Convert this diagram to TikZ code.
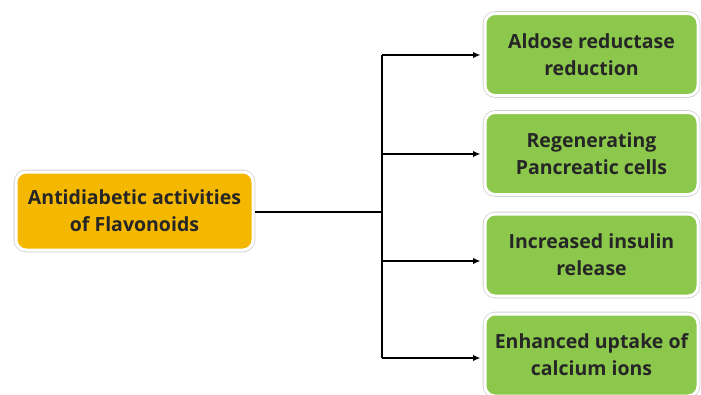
\documentclass[tikz,border=0pt]{standalone}
\usepackage{fontspec}
\setsansfont{Open Sans}
\usepackage{tikz}
\usetikzlibrary{arrows.meta,shadows}

\definecolor{flavgold}{HTML}{F5B800}
\definecolor{actgreen}{HTML}{8CC84B}
\definecolor{boxtext}{HTML}{262626}

\begin{document}
\begin{tikzpicture}[x=1pt,y=1pt,yscale=-1,xscale=1,
  card/.style={rectangle, rounded corners=10pt, draw=white, line width=3pt,
    preaction={draw=black!18, line width=4.6pt},
    drop shadow={shadow xshift=0.6pt, shadow yshift=-1.6pt, opacity=0.25},
    align=center, text=boxtext, inner sep=0pt,
    font=\sffamily\bfseries\fontsize{19.5}{27}\selectfont},
  rootbox/.style={card, fill=flavgold, minimum width=237pt, minimum height=78pt},
  leafbox/.style={card, fill=actgreen, minimum width=213pt, minimum height=82pt},
  link/.style={line width=1.6pt, black},
  tip/.style={link, -{Latex[length=7.5pt,width=6.5pt]}, shorten >=3pt}]
%set diagram left start at 0, and has height of 394
\path[use as bounding box, clip] (0,0) rectangle (701,394);

% Root Node
\node [rootbox] (root) at (134.5,211) {Antidiabetic activities\\of Flavonoids};

% Leaf Nodes
\node [leafbox] (aldose) at (591.5,54.5) {Aldose reductase\\reduction};
\node [leafbox] (pancreas) at (591.5,153.5) {Regenerating\\Pancreatic cells};
\node [leafbox] (insulin) at (591.5,255) {Increased insulin\\release};
\node [leafbox] (calcium) at (591.5,355) {Enhanced uptake of\\calcium ions};

% Branch points on the trunk
\coordinate (fork) at (382,212);
\coordinate (b1) at (382,55);
\coordinate (b2) at (382,154);
\coordinate (b3) at (382,261);
\coordinate (b4) at (382,358);

% Connectors
\draw [link] (fork -| root.east) -- (fork);
\draw [link] (b1) -- (b4);
\draw [tip] (b1) -- (b1 -| aldose.west);
\draw [tip] (b2) -- (b2 -| pancreas.west);
\draw [tip] (b3) -- (b3 -| insulin.west);
\draw [tip] (b4) -- (b4 -| calcium.west);
\end{tikzpicture}
\end{document}
